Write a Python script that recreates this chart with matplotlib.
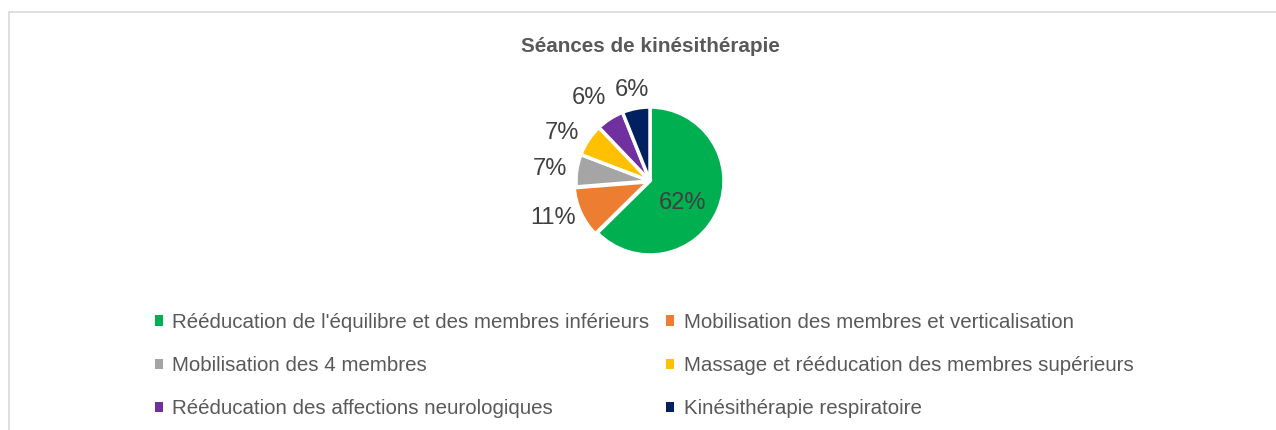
import matplotlib
matplotlib.use("Agg")
import matplotlib.pyplot as plt
from matplotlib.patches import Rectangle, Patch
import numpy as np

categories = [
    "Rééducation de l'équilibre et des membres inférieurs",
    "Mobilisation des membres et verticalisation",
    "Mobilisation des 4 membres",
    "Massage et rééducation des membres supérieurs",
    "Rééducation des affections neurologiques",
    "Kinésithérapie respiratoire",
]
values = [62, 11, 7, 7, 6, 6]
pct_labels = ["62%", "11%", "7%", "7%", "6%", "6%"]
colors = ["#00B050", "#ED7D31", "#A5A5A5", "#FFC000", "#7030A0", "#002060"]
title = "Séances de kinésithérapie"

# label placement style (radial distance in pie radii, angular tweak in degrees)
label_dist = [0.51, 1.39, 1.36, 1.37, 1.42, 1.29]
label_dang = [-9, -5, 0, 4, 3, 0]

plt.rcParams["font.family"] = ["Liberation Sans", "DejaVu Sans"]

W, H = 1276, 430
fig = plt.figure(figsize=(W / 100, H / 100), dpi=100)
fig.patch.set_facecolor("white")

fig.add_artist(Rectangle((9 / W, -0.1), 1.2, (H - 12) / H + 0.1, transform=fig.transFigure,
                         fill=False, edgecolor="#D9D9D9", linewidth=1.2))

cx, cy, r = 650, 181, 74
ax = fig.add_axes([(cx - r) / W, (H - cy - r) / H, 2 * r / W, 2 * r / H])
wedges, _ = ax.pie(values, colors=colors, startangle=90, counterclock=False,
                   wedgeprops=dict(edgecolor="white", linewidth=2.5),
                   explode=[0, 0.03, 0, 0, 0, 0])
ax.set_xlim(-1, 1)
ax.set_ylim(-1, 1)
ax.set_aspect("equal")
ax.axis("off")

for w, lab, d, da in zip(wedges, pct_labels, label_dist, label_dang):
    mid = np.deg2rad((w.theta1 + w.theta2) / 2 + da)
    ax.text(d * np.cos(mid), d * np.sin(mid), lab, ha="center", va="center_baseline",
            fontsize=17, color="#404040", clip_on=False)

fig.text(cx / W, 1 - 46 / H, title, ha="center", va="center", fontsize=14.9,
         fontweight="bold", color="#595959")

handles = [Patch(facecolor=c, edgecolor="none") for c in colors]
order = [0, 2, 4, 1, 3, 5]
leg = fig.legend([handles[i] for i in order], [categories[i] for i in order],
                 ncol=2, loc="upper left", bbox_to_anchor=(155 / W, 1 - 313 / H),
                 frameon=False, fontsize=14.8, handlelength=0.4, handleheight=0.4,
                 handletextpad=0.45, labelspacing=1.17, columnspacing=0.8,
                 borderpad=0, borderaxespad=0)
for t in leg.get_texts():
    t.set_color("#595959")

fig.savefig("out.png", dpi=100)
